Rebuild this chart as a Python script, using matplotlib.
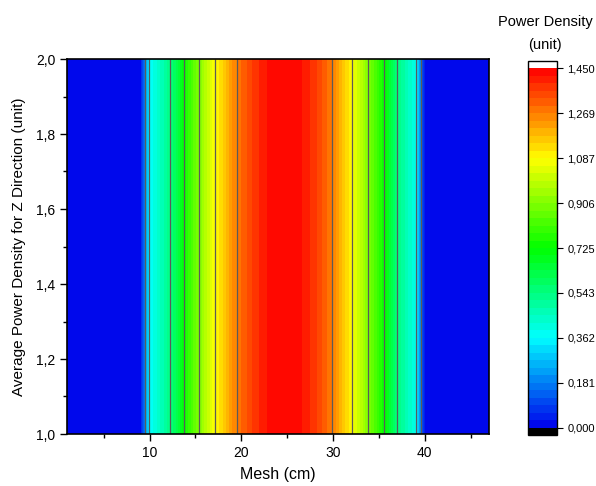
import numpy as np
import matplotlib
matplotlib.use("Agg")
import matplotlib.pyplot as plt
from matplotlib.colors import LinearSegmentedColormap, ListedColormap
from matplotlib.ticker import MultipleLocator

plt.rcParams['font.family'] = ['Liberation Sans', 'DejaVu Sans']

# ---- data ----
mesh = [1, 2, 3, 4, 5, 6, 7, 8, 9, 10, 11, 12, 13, 14, 15, 16, 17, 18, 19, 20,
        21, 22, 23, 24, 25, 26, 27, 28, 29, 30, 31, 32, 33, 34, 35, 36, 37, 38, 39, 40,
        41, 42, 43, 44, 45, 46, 47]
power = [0.02, 0.02, 0.02, 0.02, 0.02, 0.02, 0.02, 0.02, 0.02, 0.37,
         0.44, 0.52, 0.62, 0.76, 0.87, 0.97, 1.075, 1.15, 1.24, 1.30,
         1.35, 1.395, 1.425, 1.445, 1.445, 1.435, 1.41, 1.37, 1.32, 1.26,
         1.18, 1.09, 0.99, 0.89, 0.79, 0.68, 0.545, 0.47, 0.39, 0.02,
         0.02, 0.02, 0.02, 0.02, 0.02, 0.02, 0.02]
z_dir = [1.0, 2.0]
cbar_ticks = [0.0, 0.18125, 0.3625, 0.54375, 0.725, 0.90625, 1.0875, 1.26875, 1.45]
cbar_labels = ['0,000', '0,181', '0,362', '0,543', '0,725', '0,906', '1,087', '1,269', '1,450']
yticks = [1.0, 1.2, 1.4, 1.6, 1.8, 2.0]
ylabels = ['1,0', '1,2', '1,4', '1,6', '1,8', '2,0']
xticks = [10, 20, 30, 40]

X, Y = np.meshgrid(mesh, z_dir)
Z = np.vstack([power for _ in z_dir])

levels = np.linspace(0, 1.45, 49)
base = LinearSegmentedColormap.from_list(
    'rb', [(0.0, (0, 0, 235/255)), (0.25, (0, 1, 1)), (0.5, (0, 1, 0)),
           (0.75, (1, 1, 0)), (1.0, (1, 0, 0))])
mids = (levels[:-1] + levels[1:]) / 2 / 1.45
cmap = ListedColormap([base(m) for m in mids])
cmap.set_under('black')
cmap.set_over('white')

fig = plt.figure(figsize=(5.96, 4.86), dpi=100)
ax = fig.add_axes([67/596, (486-434)/486, (489-67)/596, (434-59)/486])
cs = ax.contourf(X, Y, Z, levels=levels, cmap=cmap, extend='both')
ax.contour(X, Y, Z, levels=cbar_ticks[1:-1], colors='#5a5a5a', linewidths=0.9)

ax.set_xlim(min(mesh), max(mesh))
ax.set_ylim(1.0, 2.0)
ax.set_xticks(xticks)
ax.xaxis.set_minor_locator(MultipleLocator(5))
ax.set_yticks(yticks)
ax.set_yticklabels(ylabels)
ax.yaxis.set_minor_locator(MultipleLocator(0.1))
ax.tick_params(which='major', direction='out', length=5, width=1, labelsize=10)
ax.tick_params(which='minor', direction='out', length=3, width=1)
for s in ax.spines.values():
    s.set_linewidth(1.2)
ax.set_xlabel('Mesh (cm)', fontsize=11.5, labelpad=5)
ax.set_ylabel('Average Power Density for Z Direction (unit)', fontsize=11, labelpad=7)

cax = fig.add_axes([528/596, (486-435)/486, 29/596, (435-61)/486])
cb = fig.colorbar(cs, cax=cax, extend='both', extendfrac=0.02, extendrect=True,
                  drawedges=False)
cb.set_ticks(cbar_ticks)
cb.set_ticklabels(cbar_labels)
cb.ax.tick_params(labelsize=8, length=4, width=0.8, direction='out')
cb.outline.set_linewidth(1.0)
cb.ax.minorticks_off()
fig.text(545/596, 1 - 22/486, 'Power Density', ha='center', va='center', fontsize=10.5)
fig.text(545/596, 1 - 45/486, '(unit)', ha='center', va='center', fontsize=10.5)

fig.savefig('out.png', dpi=100)
